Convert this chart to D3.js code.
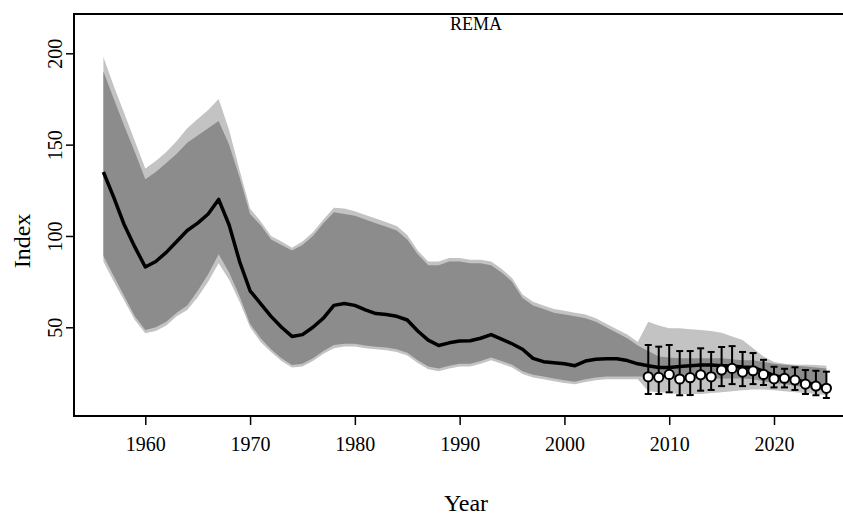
<!DOCTYPE html>
<html>
<head>
<meta charset="utf-8">
<script src="https://cdn.jsdelivr.net/npm/d3@7"></script>
<style>
  body { margin: 0; background: #fff; }
  svg { display: block; font-family: "Liberation Serif", "Times New Roman", serif; }
</style>
</head>
<body>
<div id="chart"></div>
<script>
// model years
const years = [1956,1957,1958,1959,1960,1961,1962,1963,1964,1965,1966,1967,1968,1969,
  1970,1971,1972,1973,1974,1975,1976,1977,1978,1979,1980,1981,1982,1983,1984,1985,
  1986,1987,1988,1989,1990,1991,1992,1993,1994,1995,1996,1997,1998,1999,2000,2001,
  2002,2003,2004,2005,2006,2007,2008,2009,2010,2011,2012,2013,2014,2015,2016,2017,
  2018,2019,2020,2021,2022,2023,2024,2025];

// estimated index (black line)
const meanIndex = [135,121,106,94,83,86,91,97,103,107,112,120,106,86,
  70,63,56,50,45,46,50,55,62,63,62,59.5,57.5,57,56,54,
  48,43,40,41.5,42.5,42.6,44,46,43.5,41,38,33,31.2,30.6,30,29,
  31.5,32.5,32.8,32.8,31.8,30,29,28,28,28.5,29,29.3,29.3,29,28.8,28.3,
  28,26,23.5,22.5,21.5,20,18.5,17];

// inner (dark) interval
const innerUpper = [190,175,160,146,131,135,140,145,151,155,159,163,150,132,
  112,106,98,95,92,95,100,107,113,112,111,109,107,105,103,98,
  90,84,84,86,86,85,85,84,80,75,66,62,60,58,57,56,
  55,53,50,47,44,40,37,34,33.5,33,33,33,33,33,32.5,32,
  32,31,30,29.5,29,28.5,28,27.5];
const innerLower = [89,78,67,56,48.5,50,53,58,62,70,79,90,80,67,
  52,44,38,33,29.3,30,33,37,40.3,41,41,40,39.4,39,38,36,
  32,28.5,27.5,29,30,30,31.5,33.5,31.5,29.5,26,24,23,22,21,20.2,
  21.5,22.5,23,23,23,23,23,22.5,22,22,22,22,22,22,22,22,
  21.5,20.5,19.5,19,18,17,16,15];

// outer (light) interval
const outerUpper = [198,182,167,152,137,141,146,152,159,164,169,175,158,136,
  115,108,100,97,93.5,97,102,109,115.5,115,113.5,111.5,109.5,107.5,105.5,100.5,
  92,86,86,88,88,87,87,86,82,77,68,64,62,60,59,58,
  57,55,52,49,46,42,53,51,49.5,49.5,49,48.5,48,47,45,43,
  38.5,34,31,30,29.5,29.5,29.3,29];
const outerLower = [86,75,64.5,54,46.7,48,51,56,59.5,66.5,75,85,76,64,
  50,42,36.5,31.5,28,28.5,31.5,35.5,38.5,39.5,39.5,38.5,38,37.5,36.5,34.5,
  30.5,27,26,27.5,28.5,28.5,30,32,30,28,24.5,22.5,21.5,20.5,19.5,18.8,
  20,21,21.5,21.5,21.5,21.5,15,14.5,14,13.5,13.5,13.5,14,14.5,15,15.5,
  16,16,15.5,15,14.5,14,13.5,13];

// survey observations with error bars
const surveyYears = [2008,2009,2010,2011,2012,2013,2014,2015,2016,2017,2018,2019,2020,2021,2022,2023,2024,2025];
const surveyIndex = [22.9,22.6,24.2,21.7,22.4,24.0,22.9,26.6,27.5,25.5,26.2,24.2,21.8,22.1,21.1,18.9,17.8,16.6];
const surveyUpper = [40.3,39.4,40.3,37.0,37.0,38.5,36.5,39.2,39.7,36.5,35.9,32.2,28.4,27.3,28.1,26.6,26.2,25.7];
const surveyLower = [13.5,13.5,14.4,12.8,12.9,15.3,15.7,17.8,18.9,17.8,18.9,18.4,17.1,17.1,15.7,13.5,12.8,11.3];

const xTicks = [1960,1970,1980,1990,2000,2010,2020];
const yTicks = [50,100,150,200];

var cfg = {
  w: 843,
  h: 517,
  left: 74, right: 858, top: 14, bottom: 416,   // plot box (right side falls off the page)
  darkFill: "#8c8c8c",
  lightFill: "#c3c3c3"
};

const x = d3.scaleLinear()
  .domain([1960, 2020])
  .range([145.3, 774]);

const y = d3.scaleLinear()
  .domain([50, 200])
  .range([327.3, 53.3]);

const svg = d3.select("#chart").append("svg")
  .attr("width", cfg.w)
  .attr("height", cfg.h);

const rows = years.map(function(yr, i){
  return {year: yr, mean: meanIndex[i], iu: innerUpper[i], il: innerLower[i], ou: outerUpper[i], ol: outerLower[i]};
});

const plot = svg.append("g");

// light band
plot.append("path")
  .datum(rows)
  .attr("fill", cfg.lightFill)
  .attr("d", d3.area()
    .x(function(d){ return x(d.year); })
    .y0(function(d){ return y(d.ol); })
    .y1(function(d){ return y(d.ou); }));

// dark band
plot.append("path")
  .datum(rows)
  .attr("fill", cfg.darkFill)
  .attr("d", d3.area()
    .x(function(d){ return x(d.year); })
    .y0(function(d){ return y(d.il); })
    .y1(function(d){ return y(d.iu); }));

// mean line
plot.append("path")
  .datum(rows)
  .attr("fill", "none")
  .attr("stroke", "#000")
  .attr("stroke-width", 3.5)
  .attr("stroke-linejoin", "round")
  .attr("d", d3.line()
    .x(function(d){ return x(d.year); })
    .y(function(d){ return y(d.mean); }));

// survey points
const obs = surveyYears.map(function(yr, i){
  return {year: yr, v: surveyIndex[i], lo: surveyLower[i], hi: surveyUpper[i]};
});

const bars = plot.append("g")
  .attr("stroke", "#000")
  .attr("stroke-width", 2);

bars.selectAll(".vbar").data(obs).enter().append("line")
  .attr("x1", function(d){ return x(d.year); })
  .attr("x2", function(d){ return x(d.year); })
  .attr("y1", function(d){ return y(d.lo); })
  .attr("y2", function(d){ return y(d.hi); });

bars.selectAll(".capHi").data(obs).enter().append("line")
  .attr("x1", function(d){ return x(d.year) - 3.5; })
  .attr("x2", function(d){ return x(d.year) + 3.5; })
  .attr("y1", function(d){ return y(d.hi); })
  .attr("y2", function(d){ return y(d.hi); });

bars.selectAll(".capLo").data(obs).enter().append("line")
  .attr("x1", function(d){ return x(d.year) - 3.5; })
  .attr("x2", function(d){ return x(d.year) + 3.5; })
  .attr("y1", function(d){ return y(d.lo); })
  .attr("y2", function(d){ return y(d.lo); });

plot.selectAll(".pt").data(obs).enter().append("circle")
  .attr("cx", function(d){ return x(d.year); })
  .attr("cy", function(d){ return y(d.v); })
  .attr("r", 4.6)
  .attr("fill", "#fff")
  .attr("stroke", "#000")
  .attr("stroke-width", 2);

// box
svg.append("rect")
  .attr("x", cfg.left)
  .attr("y", cfg.top)
  .attr("width", cfg.right - cfg.left)
  .attr("height", cfg.bottom - cfg.top)
  .attr("fill", "none")
  .attr("stroke", "#000")
  .attr("stroke-width", 2);

// x axis
const xAxis = svg.append("g")
  .attr("transform", "translate(0," + cfg.bottom + ")")
  .call(d3.axisBottom(x).tickValues(xTicks).tickFormat(d3.format("d")).tickSize(9).tickPadding(12));
xAxis.select(".domain").remove();
xAxis.selectAll("line").attr("stroke", "#000").attr("stroke-width", 1.5);
xAxis.selectAll("text")
  .style("font-family", "Liberation Serif, serif")
  .style("font-size", "20px")
  .attr("fill", "#000");

// y axis
const yAxis = svg.append("g")
  .attr("transform", "translate(" + cfg.left + ",0)")
  .call(d3.axisLeft(y).tickValues(yTicks).tickSize(8));
yAxis.select(".domain").remove();
yAxis.selectAll("line").attr("stroke", "#000").attr("stroke-width", 1.5);
yAxis.selectAll("text")
  .attr("x", 0)
  .attr("y", -12)
  .attr("dy", 0)
  .attr("text-anchor", "middle")
  .attr("transform", "rotate(-90)")
  .style("font-family", "Liberation Serif, serif")
  .style("font-size", "20px")
  .attr("fill", "#000");

// labels
svg.append("text")
  .attr("x", 476)
  .attr("y", 30)
  .attr("text-anchor", "middle")
  .style("font-size", "18px")
  .text("REMA");

svg.append("text")
  .attr("x", 466)
  .attr("y", 511)
  .attr("text-anchor", "middle")
  .style("font-size", "24px")
  .text("Year");

svg.append("text")
  .attr("transform", "translate(30,241) rotate(-90)")
  .attr("text-anchor", "middle")
  .style("font-size", "24px")
  .text("Index");
</script>
</body>
</html>
